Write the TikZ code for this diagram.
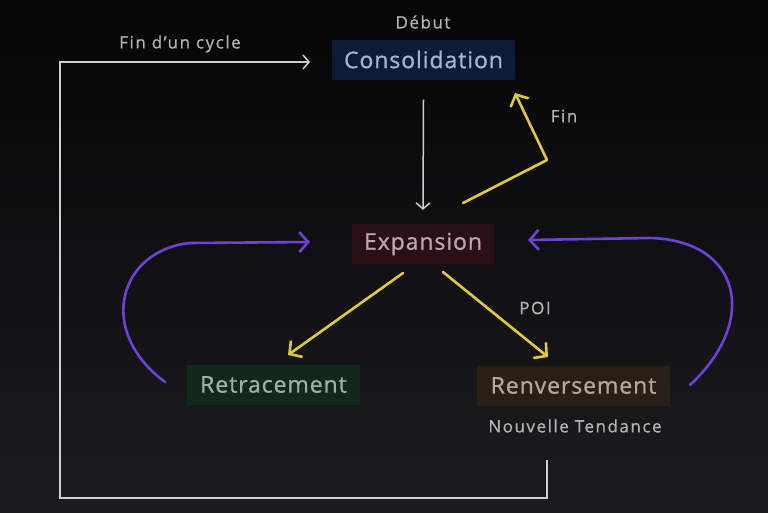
\documentclass[tikz,border=0pt]{standalone}
\usepackage{fontspec}
\setmainfont{Open Sans}
\usetikzlibrary{arrows.meta}
\definecolor{bgtop}{HTML}{050506}
\definecolor{bgbot}{HTML}{1C1C1F}
\definecolor{navy}{HTML}{0D1B36}
\definecolor{maroon}{HTML}{2A1016}
\definecolor{dgreen}{HTML}{10291A}
\definecolor{dbrown}{HTML}{2A1F16}
\definecolor{ylw}{HTML}{DCCB3C}
\definecolor{purp}{HTML}{6E42D6}
\definecolor{lgray}{HTML}{B4B4B4}
\definecolor{wline}{HTML}{CFCFCF}
\definecolor{tblue}{HTML}{A9B5CF}
\definecolor{tmaroon}{HTML}{B9A8B5}
\definecolor{tgreen}{HTML}{9CB2A2}
\definecolor{tbrown}{HTML}{B2AAA2}
\tikzset{
  box/.style={inner xsep=6pt, inner ysep=0pt, minimum height=40pt, font=\fontsize{23}{26}\selectfont\addfontfeature{LetterSpace=4,FakeBold=0.8}},
  lbl/.style={text=lgray, font=\fontsize{17}{20}\selectfont\addfontfeature{LetterSpace=9,FakeBold=0.8}},
  yarrow/.style={draw=ylw, line width=2.6pt, line cap=round, line join=round, -{Straight Barb[length=9pt, width=20pt, line width=2.6pt]}},
  parrow/.style={draw=purp, line width=2.6pt, line cap=round, -{Straight Barb[length=9pt, width=20pt, line width=2.6pt]}},
  warrow/.style={draw=wline, line width=1.5pt, -{Straight Barb[length=6pt, width=14pt, line width=1.5pt]}}
}
\begin{document}
\begin{tikzpicture}[x=1pt, y=-1pt]
\shade[top color=bgtop, bottom color=bgbot] (0,0) rectangle (768,512);
\useasboundingbox (0,0) rectangle (768,512);

\node[box, fill=navy, text=tblue, minimum width=183pt] (cons) at (423.5,59.5) {Consolidation};
\node[box, fill=maroon, text=tmaroon, minimum width=142pt] (exp) at (423,244) {Expansion};
\node[box, fill=dgreen, text=tgreen, minimum width=173pt] (retr) at (273.5,384.5) {Retracement};
\node[box, fill=dbrown, text=tbrown, minimum width=193pt] (renv) at (573.5,385.5) {Renversement};

\node[lbl] (debut) at (423,22) {Début};
\node[lbl] (fin) at (564,116) {Fin};
\node[lbl] (poi) at (535,308) {POI};
\node[lbl] (nt) at (575,426) {Nouvelle Tendance};
\node[lbl] (cycle) at (180,44) {Fin d'un cycle};

% white down arrow
\draw[warrow] ([yshift=-20pt]cons.south) -- ([yshift=14pt]exp.north);

% yellow arrows
\coordinate (ystart) at (463,203);
\coordinate (ybend) at (547,160);
\coordinate (yend) at (515,93);
\draw[yarrow] (ystart) -- (ybend) -- (yend);
\coordinate (e1) at (403,273);
\coordinate (e2) at (443,272);
\draw[yarrow] (e1) -- (288,355);
\draw[yarrow] (e2) -- (548,357);

% purple curves
\coordinate (pl) at (165,382);
\coordinate (plend) at (310,242);
\draw[parrow] (pl) .. controls (95,330) and (120,250) .. (190,243) -- (plend);
\coordinate (pr) at (690,385);
\coordinate (prend) at (528,240);
\draw[parrow] (pr) .. controls (760,320) and (740,240) .. (650,238) -- (prend);

% cycle loop
\coordinate (c0) at (547,460);
\coordinate (c1) at (547,498);
\coordinate (c2) at (60,498);
\coordinate (c3) at (60,62);
\coordinate (c4) at (310,62);
\draw[warrow, line join=miter] (c0) -- (c1) -- (c2) -- (c3) -- (c4);
\end{tikzpicture}
\end{document}
